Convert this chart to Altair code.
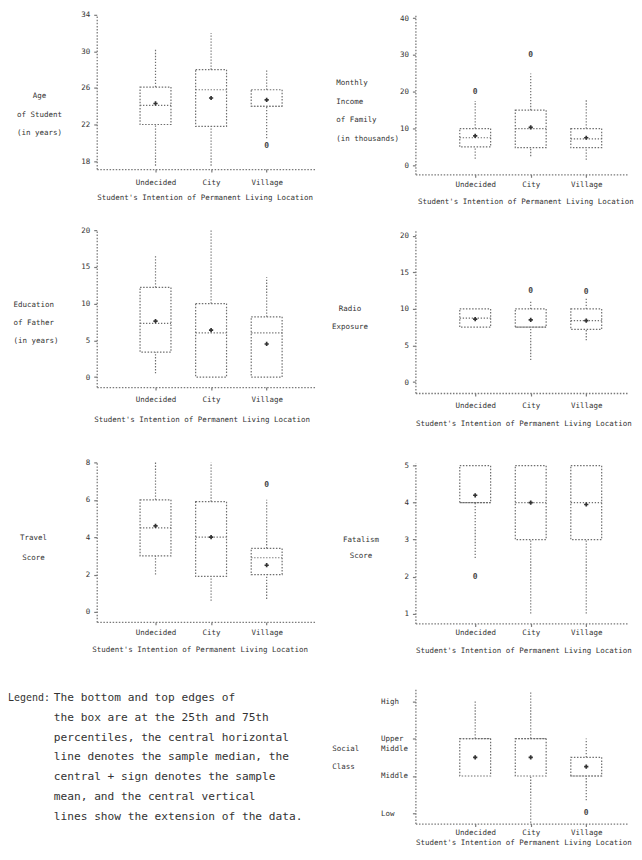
import json
import altair as alt
import pandas as pd

MONO = "DejaVu Sans Mono"
INK = "#333333"
LINE = "#6e6e6e"
HALF = 0.278

CATS = ["Undecided", "City", "Village"]
XTITLE = "Student's Intention of Permanent Living Location"

# Panel 1: Age of Student
age_lo = [17.5, 17.5, 20.5]
age_q1 = [22.0, 21.8, 24.0]
age_med = [24.1, 25.8, 24.0]
age_mean = [24.3, 24.9, 24.7]
age_q3 = [26.1, 28.0, 25.8]
age_hi = [30.2, 32.0, 28.0]
age_out_cat = ["Village"]
age_out_val = [19.6]
age_ticks = [18, 22, 26, 30, 34]

# Panel 2: Monthly Income of Family
inc_lo = [1.8, 2.5, 1.5]
inc_q1 = [5.0, 4.8, 4.8]
inc_med = [7.5, 10.0, 7.2]
inc_mean = [8.0, 10.3, 7.5]
inc_q3 = [10.0, 15.0, 10.0]
inc_hi = [17.5, 25.0, 18.0]
inc_out_cat = ["Undecided", "City"]
inc_out_val = [20.0, 30.0]
inc_ticks = [0, 10, 20, 30, 40]

# Panel 3: Education of Father
edu_lo = [0.5, 0.0, 0.0]
edu_q1 = [3.4, 0.0, 0.0]
edu_med = [7.3, 6.0, 6.0]
edu_mean = [7.6, 6.4, 4.5]
edu_q3 = [12.2, 10.0, 8.2]
edu_hi = [16.5, 20.0, 13.6]
edu_out_cat = []
edu_out_val = []
edu_ticks = [0, 5, 10, 15, 20]

# Panel 4: Radio Exposure
rad_lo = [7.5, 3.0, 5.7]
rad_q1 = [7.5, 7.5, 7.2]
rad_med = [8.75, 7.5, 8.4]
rad_mean = [8.6, 8.5, 8.4]
rad_q3 = [10.0, 10.0, 10.0]
rad_hi = [10.0, 11.0, 11.4]
rad_out_cat = ["City", "Village"]
rad_out_val = [12.5, 12.3]
rad_ticks = [0, 5, 10, 15, 20]

# Panel 5: Travel Score
trv_lo = [2.0, 0.6, 0.7]
trv_q1 = [3.0, 1.9, 2.0]
trv_med = [4.5, 4.0, 2.9]
trv_mean = [4.6, 4.0, 2.5]
trv_q3 = [6.0, 5.9, 3.4]
trv_hi = [8.0, 8.0, 6.0]
trv_out_cat = ["Village"]
trv_out_val = [6.8]
trv_ticks = [0, 2, 4, 6, 8]

# Panel 6: Fatalism Score
fat_lo = [2.5, 1.0, 1.0]
fat_q1 = [4.0, 3.0, 3.0]
fat_med = [4.0, 4.0, 4.0]
fat_mean = [4.2, 4.0, 3.95]
fat_q3 = [5.0, 5.0, 5.0]
fat_hi = [5.0, 5.0, 5.0]
fat_out_cat = ["Undecided"]
fat_out_val = [2.0]
fat_ticks = [1, 2, 3, 4, 5]

# Panel 7: Social Class
soc_lo = [2.0, 0.75, 1.35]
soc_q1 = [2.0, 2.0, 2.0]
soc_med = [3.0, 3.0, 2.0]
soc_mean = [2.5, 2.5, 2.25]
soc_q3 = [3.0, 3.0, 2.5]
soc_hi = [4.0, 4.25, 3.0]
soc_out_cat = ["Village"]
soc_out_val = [1.0]
soc_ticks = [1, 2, 3, 4]
soc_labels = ["Low", "Middle", "Upper Middle", "High"]

LEGEND_HEAD = "Legend:"
LEGEND_LINES = [
    "The bottom and top edges of",
    "the box are at the 25th and 75th",
    "percentiles, the central horizontal",
    "line denotes the sample median, the",
    "central + sign denotes the sample",
    "mean, and the central vertical",
    "lines show the extension of the data.",
]

XLABEL_EXPR = f"{json.dumps(CATS)}[datum.value - 1]"
LEFT_XDOM = [-0.058, 3.888]
RIGHT_XDOM = [-0.077, 3.747]

dot_rule = dict(color=LINE, strokeWidth=1.2, strokeDash=[1.3, 1.7])


def panel(stats, out_cat, out_val, ticks, labels, ydom, ytitle, width, height, xdom, g):
    lo, q1, med, mean, q3, hi = stats
    df = pd.DataFrame({"cat": CATS, "lo": lo, "q1": q1, "med": med,
                       "mean": mean, "q3": q3, "hi": hi})
    df["pos"] = [CATS.index(c) + 1 for c in df["cat"]]
    base = alt.Chart(df).transform_calculate(
        xl=f"datum.pos - {HALF}", xr=f"datum.pos + {HALF}")

    xscale = alt.Scale(domain=xdom, nice=False, zero=False)
    xaxis = alt.Axis(values=[1, 2, 3], labelExpr=XLABEL_EXPR, title=XTITLE,
                     titleAlign="left", titleX=g["tx"], titleY=g["ty"],
                     titleBaseline="middle", labelPadding=g["xlp"],
                     labelFlush=False, labelOverlap=False)
    yscale = alt.Scale(domain=ydom, nice=False, zero=False)
    ylab = f"split({json.dumps(labels)}[indexof({json.dumps(ticks)}, datum.value)], ' ')"
    yextra = {}
    if "yla" in g:
        yextra = dict(labelAlign=g["yla"], labelBaseline="top", labelOffset=-4)
    yaxis = alt.Axis(values=ticks, labelExpr=ylab, title=ytitle, titleAngle=0,
                     titleAlign=g["ya"], titleX=g["yx"], titleY=g["yy"],
                     titleBaseline="middle", titleLineHeight=g["ylh"],
                     labelPadding=g.get("ylp", 4),
                     labelLineHeight=10, labelOverlap=False, **yextra)

    def X(f):
        return alt.X(f, type="quantitative", scale=xscale, axis=xaxis)

    def Y(f):
        return alt.Y(f, type="quantitative", scale=yscale, axis=yaxis)

    w1 = base.mark_rule(**dot_rule).encode(x=X("pos"), y=Y("lo"), y2=alt.Y2("q1"))
    w2 = base.mark_rule(**dot_rule).encode(x=X("pos"), y=Y("q3"), y2=alt.Y2("hi"))
    box = base.mark_rect(fillOpacity=0, stroke=LINE, strokeWidth=1.2,
                         strokeDash=[1.5, 1.6]).encode(
        x=X("xl"), x2=alt.X2("xr"), y=Y("q1"), y2=alt.Y2("q3"))
    medl = base.mark_rule(**dot_rule).encode(x=X("xl"), x2=alt.X2("xr"), y=Y("med"))
    meanp = base.mark_point(shape="cross", filled=True, size=18, color=INK,
                            opacity=1).encode(x=X("pos"), y=Y("mean"))
    layers = [w1, w2, box, medl, meanp]
    if out_cat:
        odf = pd.DataFrame({"cat": out_cat, "val": out_val})
        odf["pos"] = [CATS.index(c) + 1 for c in odf["cat"]]
        outs = alt.Chart(odf).mark_text(text="0", font=MONO, fontSize=8,
                                        fontWeight="bold", color="#444").encode(
            x=X("pos"), y=Y("val"))
        layers.append(outs)
    return alt.layer(*layers).properties(width=width, height=height)


def spacer(h):
    return alt.Chart(pd.DataFrame({"v": [0]})).mark_point(opacity=0).encode(
        x=alt.value(0), y=alt.value(0)).properties(width=1, height=h)


num = lambda t: [str(v) for v in t]

p1 = panel((age_lo, age_q1, age_med, age_mean, age_q3, age_hi), age_out_cat, age_out_val,
           age_ticks, num(age_ticks), [17.13, 34], ["Age", "of Student", "(in years)"],
           220, 154.7, LEFT_XDOM,
           dict(tx=0, ty=29, xlp=6.5, ya="center", yx=-58, yy=81.1, ylh=18.5))
p2 = panel((inc_lo, inc_q1, inc_med, inc_mean, inc_q3, inc_hi), inc_out_cat, inc_out_val,
           inc_ticks, num(inc_ticks), [-2.44, 40.92],
           ["Monthly", "Income", "of Family", "(in thousands)"],
           213, 160, RIGHT_XDOM,
           dict(tx=2, ty=27.7, xlp=3.5, ya="left", yx=-80, yy=68.2, ylh=18.5))
p3 = panel((edu_lo, edu_q1, edu_med, edu_mean, edu_q3, edu_hi), edu_out_cat, edu_out_val,
           edu_ticks, num(edu_ticks), [-1.36, 20], ["Education", "of Father", "(in years)"],
           220, 157.4, LEFT_XDOM,
           dict(tx=-3, ty=33, xlp=6, ya="left", yx=-84, yy=74.2, ylh=18.5))
p4 = panel((rad_lo, rad_q1, rad_med, rad_mean, rad_q3, rad_hi), rad_out_cat, rad_out_val,
           rad_ticks, num(rad_ticks), [-1.5, 20.78], ["Radio", "Exposure"],
           213, 163.4, RIGHT_XDOM,
           dict(tx=0, ty=30.6, xlp=5.8, ya="center", yx=-66, yy=78.7, ylh=18))
p5 = panel((trv_lo, trv_q1, trv_med, trv_mean, trv_q3, trv_hi), trv_out_cat, trv_out_val,
           trv_ticks, num(trv_ticks), [-0.53, 8], ["Travel", "Score"],
           220, 160, LEFT_XDOM,
           dict(tx=-5, ty=28, xlp=3.5, ya="center", yx=-64, yy=75.3, ylh=20))
p6 = panel((fat_lo, fat_q1, fat_med, fat_mean, fat_q3, fat_hi), fat_out_cat, fat_out_val,
           fat_ticks, num(fat_ticks), [0.73, 5.09], ["Fatalism", "Score"],
           213, 161.6, RIGHT_XDOM,
           dict(tx=0, ty=27, xlp=2, ya="center", yx=-55, yy=77.8, ylh=15.5))
p7 = panel((soc_lo, soc_q1, soc_med, soc_mean, soc_q3, soc_hi), soc_out_cat, soc_out_val,
           soc_ticks, soc_labels, [0.73, 4.36], ["Social", "Class"],
           213, 136.3, RIGHT_XDOM,
           dict(tx=0, ty=19, xlp=2, ya="left", yx=-84, yy=61.3, ylh=18,
                yla="left", ylp=32))

ldf = pd.DataFrame({"line": list(range(len(LEGEND_LINES))), "text": LEGEND_LINES})
hdf = pd.DataFrame({"line": [0], "text": [LEGEND_HEAD]})
lscale = alt.Scale(domain=list(range(len(LEGEND_LINES))))
body = alt.Chart(ldf).mark_text(align="left", baseline="middle", font=MONO,
                                fontSize=11.2, color=INK).encode(
    y=alt.Y("line:O", axis=None, scale=lscale), x=alt.value(-43), text="text:N")
head = alt.Chart(hdf).mark_text(align="left", baseline="middle", font=MONO,
                                fontSize=10, color=INK).encode(
    y=alt.Y("line:O", axis=None, scale=lscale), x=alt.value(-89), text="text:N")
legend = alt.layer(body, head).properties(width=220, height=140)

chart = alt.concat(
    p1, p2,
    spacer(56), spacer(56),
    p3, p4,
    spacer(69), spacer(69),
    p5, p6,
    spacer(63.4), spacer(63.4),
    legend, p7,
    columns=2, align="each", bounds="flush",
    spacing={"row": 0, "column": 99.7},
).properties(
    padding={"left": 0, "top": 1.5, "right": 0, "bottom": 0}
).configure_view(
    strokeWidth=0
).configure_axis(
    grid=False,
    domainColor="#7a7a7a", domainDash=[1.5, 1.6], domainWidth=1.3,
    tickColor="#7a7a7a", tickWidth=1.2, tickSize=3,
    labelFont=MONO, labelFontSize=7.5, labelColor=INK,
    titleFont=MONO, titleFontSize=7.5, titleFontWeight="normal", titleColor=INK,
)

chart.save("out.html", embed_options={"renderer": "svg", "actions": False})
